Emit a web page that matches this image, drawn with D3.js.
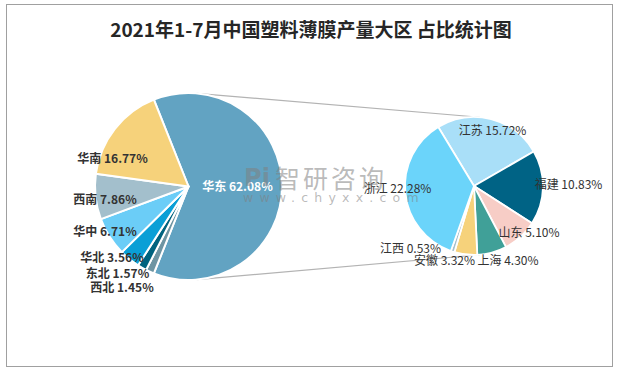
<!DOCTYPE html>
<html>
<head>
<meta charset="utf-8">
<script src="https://cdn.jsdelivr.net/npm/d3@7/dist/d3.min.js"></script>
<style>
  html, body { margin: 0; padding: 0; background: #fff; }
  svg { display: block; }
</style>
</head>
<body>
<script>
// ---------- DATA ----------
const title = "2021年1-7月中国塑料薄膜产量大区 占比统计图";
const mainCategories = ["华东", "西北", "东北", "华北", "华中", "西南", "华南"];
const mainValues     = [62.08, 1.45, 1.57, 3.56, 6.71, 7.86, 16.77];
const subCategories  = ["江苏", "福建", "山东", "上海", "安徽", "江西", "浙江"];
const subValues      = [15.72, 10.83, 5.10, 4.30, 3.32, 0.53, 22.28];
const watermarkName  = "智研咨询";
const watermarkUrl   = "www.chyxx.com";

// ---------- STYLE / LAYOUT ----------
const W = 626, H = 371;
const mainColors = ["#62A3C2", "#6E95A3", "#00637F", "#0A9FD6", "#6BCDF7", "#A3BFCC", "#F6D27B"];
const subColors  = ["#A9DFF8", "#006385", "#F7CDC6", "#40A098", "#F6D27B", "#A3BFCC", "#6BD4FA"];
const mainC = {x: 188.5, y: 186.5, r: 93.5};
const subC  = {x: 474, y: 186, r: 69};
const subStartDeg = -31.2;
// label offsets relative to pie centres
const mainLabelOff = [[49,-1.5],[-66.5,99.5],[-71,85.5],[-76.5,69.5],[-83.5,43.5],[-83.5,11.5],[-76,-29.5]];
const subLabelOff  = [[18.5,-57],[94.5,-3],[55,45],[34,73],[-29.5,73],[-63.5,61],[-76.5,1]];

const svg = d3.select("body").append("svg").attr("width", W).attr("height", H);

// outer border
svg.append("rect").attr("x", 6.5).attr("y", 4.5).attr("width", 606).attr("height", 362)
  .attr("fill", "#fff").attr("stroke", "#a0a0a0").attr("stroke-width", 1);

// title
svg.append("text").attr("x", 311).attr("y", 28)
  .attr("text-anchor", "middle").attr("dominant-baseline", "central")
  .attr("font-family", "'Noto Sans CJK SC', sans-serif").attr("font-size", 19)
  .attr("font-weight", 600).attr("fill", "#262626").text(title);

// connector lines: external tangents of both circles
const dx = subC.x - mainC.x, dy = subC.y - mainC.y;
const d = Math.hypot(dx, dy);
const base = Math.atan2(dy, dx);
const phi = Math.acos((mainC.r - subC.r) / d);
[base - phi, base + phi].forEach(a => {
  svg.append("line")
    .attr("x1", mainC.x + mainC.r * Math.cos(a)).attr("y1", mainC.y + mainC.r * Math.sin(a))
    .attr("x2", subC.x + subC.r * Math.cos(a)).attr("y2", subC.y + subC.r * Math.sin(a))
    .attr("stroke", "#b3b3b3").attr("stroke-width", 1.2);
});

// main pie
const otherShare = mainValues[0] / d3.sum(mainValues);
const mainStart = Math.PI / 2 - otherShare * Math.PI;
const mainPie = d3.pie().sort(null).value(v => v).startAngle(mainStart).endAngle(mainStart + 2 * Math.PI);
const mainArc = d3.arc().innerRadius(0).outerRadius(mainC.r);
const gMain = svg.append("g").attr("transform", `translate(${mainC.x},${mainC.y})`);
gMain.selectAll("path").data(mainPie(mainValues)).join("path")
  .attr("d", mainArc).attr("fill", (d, i) => mainColors[i])
  .attr("stroke", "#fff").attr("stroke-width", 2).attr("stroke-linejoin", "round");

// sub pie
const s0 = subStartDeg * Math.PI / 180;
const subPie = d3.pie().sort(null).value(v => v).startAngle(s0).endAngle(s0 + 2 * Math.PI);
const subArc = d3.arc().innerRadius(0).outerRadius(subC.r);
const gSub = svg.append("g").attr("transform", `translate(${subC.x},${subC.y})`);
gSub.selectAll("path").data(subPie(subValues)).join("path")
  .attr("d", subArc).attr("fill", (d, i) => subColors[i])
  .attr("stroke", "#fff").attr("stroke-width", 1.8).attr("stroke-linejoin", "round");

// watermark
const wm = svg.append("g").attr("fill", "#808080").attr("fill-opacity", 0.55)
  .attr("font-family", "'Noto Sans CJK SC', sans-serif");
wm.append("text").attr("x", 257).attr("y", 178).attr("text-anchor", "middle")
  .attr("dominant-baseline", "central").attr("font-size", 24).attr("font-weight", "bold")
  .attr("font-family", "'DejaVu Sans', sans-serif").text("Pi");
wm.append("text").attr("x", 275).attr("y", 177).attr("dominant-baseline", "central")
  .attr("font-size", 25).attr("letter-spacing", 3).text(watermarkName);
wm.append("text").attr("x", 243).attr("y", 197).attr("dominant-baseline", "central")
  .attr("font-size", 12.5).attr("letter-spacing", 6.2)
  .attr("font-family", "'DejaVu Sans', sans-serif").text(watermarkUrl);

// labels
const fmt = (n, v) => `${n} ${v.toFixed(2)}%`;
gMain.selectAll("text.lbl").data(mainValues).join("text").attr("class", "lbl")
  .attr("x", (v, i) => mainLabelOff[i][0]).attr("y", (v, i) => mainLabelOff[i][1])
  .attr("text-anchor", "middle").attr("dominant-baseline", "central")
  .attr("font-family", "'Noto Sans CJK SC', sans-serif").attr("font-size", 12)
  .attr("font-weight", 600)
  .attr("fill", (v, i) => i === 0 ? "#ffffff" : "#333333")
  .text((v, i) => fmt(mainCategories[i], v));
gSub.selectAll("text.lbl").data(subValues).join("text").attr("class", "lbl")
  .attr("x", (v, i) => subLabelOff[i][0]).attr("y", (v, i) => subLabelOff[i][1])
  .attr("text-anchor", "middle").attr("dominant-baseline", "central")
  .attr("font-family", "'Noto Sans CJK SC', sans-serif").attr("font-size", 12)
  .attr("fill", "#333333")
  .text((v, i) => fmt(subCategories[i], v));
</script>
</body>
</html>
